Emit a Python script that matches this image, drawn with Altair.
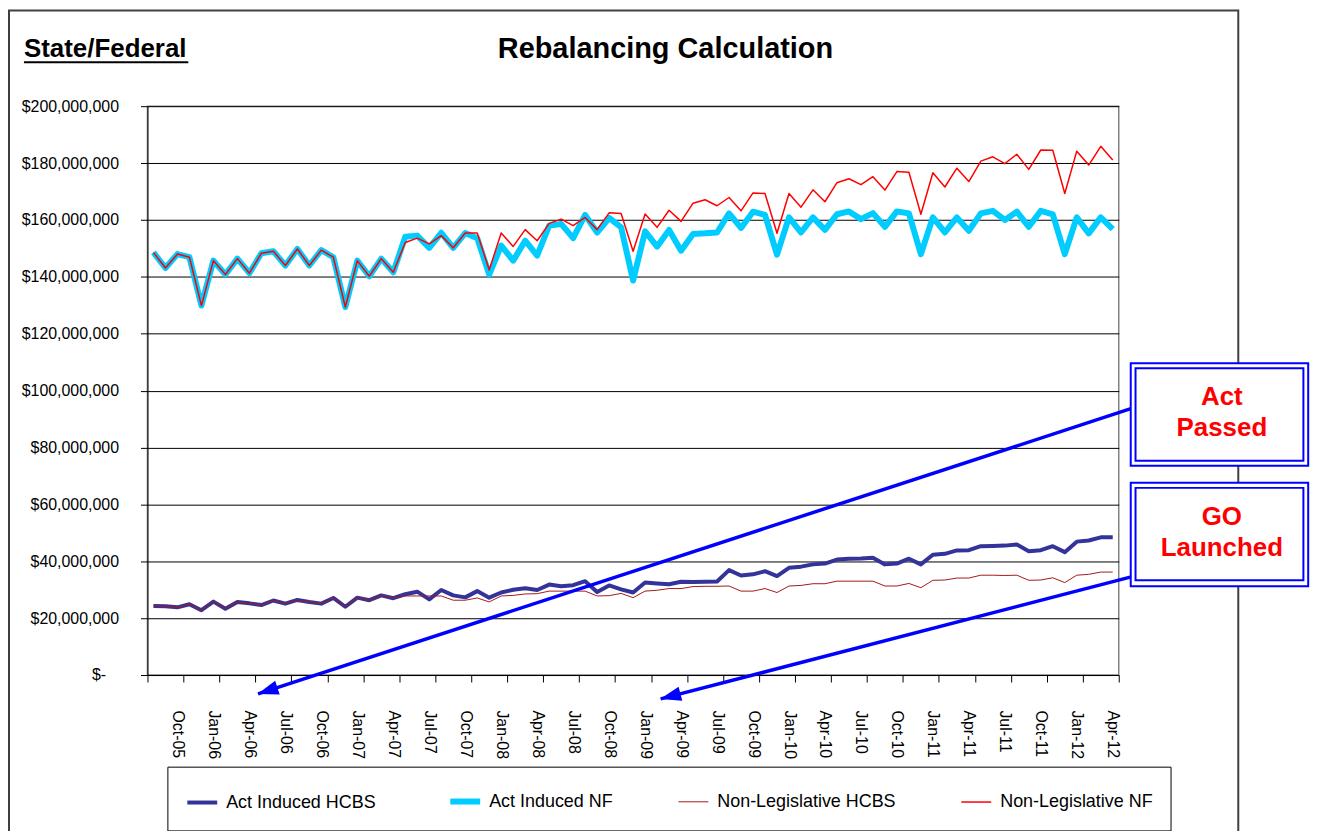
import json
import math
import altair as alt
import pandas as pd

# ---------------- data ----------------
months = pd.date_range("2005-08-01", periods=81, freq="MS").strftime("%b-%y").tolist()

series_names = ["Act Induced HCBS", "Act Induced NF", "Non-Legislative HCBS", "Non-Legislative NF"]
series_colors = ["#333399", "#00CCFF", "#A31A1A", "#FF0000"]
series_widths = [4, 6, 1, 1.5]

# values in $ millions, Aug-05 .. Apr-12
act_hcbs = [24.3, 24.2, 23.8, 24.9, 22.8, 25.8, 23.3, 25.7, 25.2, 24.6,
            26.2, 25.1, 26.4, 25.7, 25.1, 27.1, 24.0, 27.2, 26.3, 28.0,
            27.0, 28.4, 29.3, 26.6, 29.9, 28.0, 27.3, 29.5, 27.2, 29.0,
            30.0, 30.5, 29.9, 31.8, 31.2, 31.6, 33.0, 29.2, 31.5, 30.1,
            29.0, 32.5, 32.2, 31.9, 32.8, 32.7, 32.8, 32.9, 36.9, 35.0,
            35.4, 36.5, 34.8, 37.7, 38.1, 38.9, 39.2, 40.6, 40.9, 41.0,
            41.2, 38.9, 39.2, 40.9, 38.9, 42.3, 42.6, 43.8, 43.9, 45.3,
            45.4, 45.5, 45.9, 43.5, 43.9, 45.3, 43.2, 46.9, 47.3, 48.4,
            48.4]
act_nf = [148.6, 143.1, 148.0, 146.9, 129.9, 145.7, 140.8, 146.4, 141.3, 148.3,
          149.0, 144.0, 149.8, 144.0, 149.4, 146.9, 129.4, 145.7, 140.2, 146.4,
          141.6, 154.1, 154.5, 150.2, 155.5, 150.2, 155.4, 153.6, 140.8, 151.0,
          145.7, 152.7, 147.5, 158.0, 158.6, 153.6, 161.8, 155.6, 160.7, 157.4,
          138.7, 156.0, 150.6, 156.5, 149.2, 155.1, 155.3, 155.6, 162.3, 157.2,
          162.9, 161.8, 147.8, 160.9, 155.6, 160.9, 156.5, 162.0, 163.0, 160.3,
          162.4, 157.6, 163.0, 162.3, 148.0, 160.9, 155.6, 160.9, 156.2, 162.3,
          163.2, 160.0, 162.9, 157.6, 163.2, 162.0, 148.0, 160.9, 155.3, 160.9,
          156.8]
nl_hcbs = [24.3, 24.2, 23.8, 24.9, 22.8, 25.8, 23.3, 25.7, 25.2, 24.6,
           26.2, 25.1, 26.4, 25.7, 25.1, 27.1, 24.0, 27.2, 26.3, 28.0,
           27.0, 27.8, 27.8, 27.8, 27.8, 26.3, 26.3, 27.1, 25.7, 27.8,
           28.0, 28.5, 28.6, 29.5, 29.5, 29.5, 29.5, 27.8, 27.9, 28.7,
           27.2, 29.5, 29.8, 30.4, 30.4, 31.1, 31.2, 31.2, 31.3, 29.5,
           29.5, 30.4, 29.0, 31.3, 31.5, 32.1, 32.1, 33.0, 33.0, 33.0,
           33.0, 31.3, 31.3, 32.2, 30.7, 33.3, 33.4, 34.1, 34.1, 35.1,
           35.1, 35.0, 35.1, 33.3, 33.4, 34.2, 32.5, 35.1, 35.4, 36.2,
           36.2]
nl_nf = [148.6, 143.1, 148.0, 146.9, 129.9, 145.7, 140.8, 146.4, 141.3, 148.3,
         149.0, 144.0, 149.8, 144.0, 149.4, 146.9, 129.4, 145.7, 140.2, 146.4,
         141.6, 152.1, 153.6, 151.6, 154.5, 150.2, 155.4, 155.4, 142.4, 155.4,
         150.7, 156.6, 152.7, 158.8, 160.3, 158.0, 160.9, 156.6, 162.5, 162.3,
         149.0, 162.1, 157.4, 163.4, 159.5, 165.9, 167.1, 165.0, 167.9, 163.2,
         169.5, 169.3, 155.3, 169.3, 164.5, 170.6, 166.4, 173.1, 174.5, 172.4,
         175.2, 170.5, 177.0, 176.8, 162.0, 176.6, 171.6, 178.2, 173.5, 180.7,
         182.2, 179.8, 183.1, 177.8, 184.6, 184.5, 169.3, 184.2, 179.3, 185.9,
         181.1]

y_ticks = [0, 20e6, 40e6, 60e6, 80e6, 100e6, 120e6, 140e6, 160e6, 180e6, 200e6]
x_ticks = [-0.5 + 3 * k for k in range(28)]
x_tick_labels = [""] + [months[int(t - 0.5)] for t in x_ticks[1:]]

# annotations (data space: month index, dollars)
box_x0 = [81.5, 81.9, 81.5, 81.9]
box_x1 = [96.3, 95.9, 96.3, 95.9]
box_y0 = [73.6e6, 75.3e6, 31.2e6, 33.3e6]
box_y1 = [109.6e6, 107.9e6, 67.6e6, 65.8e6]
note_text = ["Act", "Passed", "GO", "Launched"]
note_x = [89.1, 89.1, 89.1, 89.1]
note_y = [97.7e6, 86.9e6, 55.7e6, 44.8e6]
arrow_x0 = [81.7, 81.7]
arrow_y0 = [93.9e6, 34.7e6]
arrow_x1 = [8.72, 42.3]
arrow_y1 = [-6.65e6, -8.4e6]

# ---------------- tables ----------------
rows = []
for name, vals in zip(series_names, [act_hcbs, act_nf, nl_hcbs, nl_nf]):
    for i, v in enumerate(vals):
        rows.append({"idx": i, "month": months[i], "series": name, "value": v * 1e6})
df = pd.DataFrame(rows)

W, H = 975, 571
PX_X = W / 81.0
PX_Y = H / 200e6

boxes_df = pd.DataFrame({"x0": box_x0, "x1": box_x1, "y0": box_y0, "y1": box_y1})
notes_df = pd.DataFrame({"x": note_x, "y": note_y, "t": note_text})
arrows_df = pd.DataFrame({"x0": arrow_x0, "y0": arrow_y0, "x1": arrow_x1, "y1": arrow_y1})

HEAD_BACK = 10
heads = []
for sx, sy, tx, ty in zip(arrow_x0, arrow_y0, arrow_x1, arrow_y1):
    dx = (tx - sx) * PX_X
    dy = -(ty - sy) * PX_Y
    L = math.hypot(dx, dy)
    ux, uy = dx / L, dy / L
    ang = math.degrees(math.atan2(ux, -uy)) % 360
    cx = tx - HEAD_BACK * ux / PX_X
    cy = ty + HEAD_BACK * uy / PX_Y
    heads.append({"x": cx, "y": cy, "a": ang})
heads_df = pd.DataFrame(heads)

FONT = "Liberation Sans"

x_scale = alt.Scale(domain=[-0.5, 80.5], nice=False, zero=False)
y_scale = alt.Scale(domain=[0, 200e6], nice=False, zero=False)

x_axis = alt.Axis(
    values=x_ticks,
    labelExpr=json.dumps(x_tick_labels) + "[round((datum.value + 0.5) / 3)]",
    labelAngle=90, labelOffset=-6, labelPadding=28, tickSize=7,
    labelFontSize=16, labelColor="black", labelFlush=False, labelOverlap=False,
    labelBound=False, grid=False, title=None, domainColor="black", tickColor="black",
)
y_axis = alt.Axis(
    values=y_ticks,
    labelExpr="datum.value == 0 ? '$-' : '$' + format(datum.value, ',')",
    tickSize=7,
    labelPadding={"condition": {"test": "datum.value == 0", "value": 35}, "value": 22},
    labelFontSize=16, labelColor="black",
    grid=True, gridColor="black", gridWidth=1, title=None,
    domainColor="black", tickColor="black",
)

legend = alt.Legend(
    orient="none", legendX=20, legendY=663, direction="horizontal", columns=4,
    columnPadding=62, padding=17, strokeColor="black", fillColor="white",
    labelFontSize=18, labelColor="black", labelOffset=6, labelLimit=400,
    symbolSize=900, symbolType="stroke", title=None,
)

base = alt.Chart(df).encode(
    x=alt.X("idx:Q", scale=x_scale, axis=x_axis),
    y=alt.Y("value:Q", scale=y_scale, axis=y_axis),
    color=alt.Color("series:N", scale=alt.Scale(domain=series_names, range=series_colors), legend=legend),
    strokeWidth=alt.StrokeWidth("series:N", scale=alt.Scale(type="ordinal", domain=series_names, range=series_widths), legend=legend),
)

line_layers = [
    base.mark_line(strokeJoin="round").transform_filter(alt.datum.series == s)
    for s in series_names
]

one = alt.Data(values=[{"k": 1}])

frame = alt.Chart(one).mark_rect(filled=False, stroke="#404040", strokeWidth=2).encode(
    x=alt.value(-139), x2=alt.value(1095), y=alt.value(-96), y2=alt.value(745)
)

arrows = alt.Chart(arrows_df).mark_rule(color="#0000FF", strokeWidth=3.5).encode(
    x=alt.X("x0:Q", scale=x_scale, axis=x_axis), x2="x1:Q",
    y=alt.Y("y0:Q", scale=y_scale, axis=y_axis), y2="y1:Q",
)
heads_layer = alt.Chart(heads_df).mark_point(
    shape="M0,-1L0.7,1L-0.7,1Z", filled=True, color="#0000FF", size=440, opacity=1, strokeWidth=0
).encode(
    x=alt.X("x:Q", scale=x_scale, axis=x_axis),
    y=alt.Y("y:Q", scale=y_scale, axis=y_axis),
    angle=alt.Angle("a:Q", scale=None),
)
boxes = alt.Chart(boxes_df).mark_rect(fill="white", stroke="#0000FF", strokeWidth=2).encode(
    x=alt.X("x0:Q", scale=x_scale, axis=x_axis), x2="x1:Q",
    y=alt.Y("y0:Q", scale=y_scale, axis=y_axis), y2="y1:Q",
)
notes = alt.Chart(notes_df).mark_text(
    fontSize=26, fontWeight="bold", color="#FF0000", align="center", baseline="middle"
).encode(
    x=alt.X("x:Q", scale=x_scale, axis=x_axis),
    y=alt.Y("y:Q", scale=y_scale, axis=y_axis),
    text="t:N",
)

title_main = alt.Chart(one).mark_text(
    text="Rebalancing Calculation", fontSize=29, fontWeight="bold", color="black",
    align="center", baseline="middle"
).encode(x=alt.value(520), y=alt.value(-57))
title_left = alt.Chart(one).mark_text(
    text="State/Federal", fontSize=26, fontWeight="bold", color="black",
    align="left", baseline="middle"
).encode(x=alt.value(-124), y=alt.value(-57))
underline = alt.Chart(one).mark_rule(color="black", strokeWidth=2).encode(
    x=alt.value(-124), x2=alt.value(41), y=alt.value(-44)
)

chart = alt.layer(
    frame, *line_layers, arrows, heads_layer, boxes, notes, title_main, title_left, underline
).properties(
    width=W, height=H,
    autosize=alt.AutoSizeParams(type="none"),
    padding={"left": 140, "top": 97, "right": 193, "bottom": 155},
).configure(
    font=FONT, background="white"
).configure_view(
    stroke="#808080", strokeWidth=1.5
)

chart.save("out.html", embed_options={"renderer": "svg", "actions": False})
